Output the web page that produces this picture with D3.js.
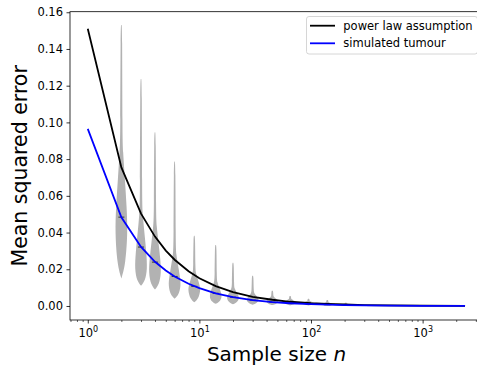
<!DOCTYPE html>
<html><head><meta charset="utf-8">
<script src="https://cdn.jsdelivr.net/npm/d3@7"></script>
<style>
html,body{margin:0;padding:0;background:#fff;}
svg{display:block;font-family:"DejaVu Sans",sans-serif;}
</style></head>
<body>
<svg id="chart" width="477" height="367"></svg>
<script>
// ---- data ----
const curveN = [1, 2, 3, 4, 5, 6, 8, 10, 14, 20, 30, 45, 65, 100, 140, 200, 300, 500, 1000, 2400];
const powerLaw = [0.151, 0.0755, 0.0503, 0.0378, 0.0302, 0.0252, 0.0189, 0.0151, 0.0108, 0.0076, 0.0050, 0.0034, 0.0023, 0.0015, 0.0011, 0.0008, 0.0005, 0.0003, 0.00015, 0.00006];
const simulated = [0.0965, 0.0483, 0.0322, 0.0241, 0.0193, 0.0161, 0.0121, 0.0097, 0.0069, 0.0048, 0.0032, 0.0021, 0.0015, 0.0010, 0.0007, 0.0005, 0.0003, 0.0002, 0.0001, 0.00004];

const violinN = [2, 3, 4, 6, 9, 14, 20, 30, 45, 65, 95, 140, 205];
const violinMin = [0.015, 0.011, 0.009, 0.004, 0.002, 0.0012, 0.0009, 0.0007, 0.0005, 0.0004, 0.0003, 0.0002, 0.0001];
const violinMode = [0.040, 0.020, 0.018, 0.011, 0.0085, 0.005, 0.0042, 0.0032, 0.0024, 0.0018, 0.0013, 0.0009, 0.0006];
const violinBodyTop = [0.085, 0.050, 0.044, 0.028, 0.018, 0.013, 0.0095, 0.007, 0.005, 0.0037, 0.0027, 0.0019, 0.0013];
const violinMax = [0.153, 0.1237, 0.0947, 0.0787, 0.0383, 0.0332, 0.0236, 0.0165, 0.0083, 0.0055, 0.0040, 0.0033, 0.0018];
const violinMean = [0.0484, 0.0321, 0.0239, 0.0161, 0.0107, 0.0069, 0.0048, 0.0032, 0.0021, 0.0015, 0.0010, 0.0007, 0.0005];

const yTicks = [0.00, 0.02, 0.04, 0.06, 0.08, 0.10, 0.12, 0.14, 0.16];
const xMajorTicks = [1, 10, 100, 1000];
const xMajorExp = ["0", "1", "2", "3"];
const legendLabels = ["power law assumption", "simulated tumour"];
const legendColors = ["#000000", "#0000ff"];

// ---- layout ----
const L = 70, R = 483, T = 11.7, B = 320;
const svg = d3.select("#chart");
const x = d3.scaleLog().domain([0.693, 3476]).range([L, R]);
const y = d3.scaleLinear().domain([-0.00763, 0.1603]).range([B, T]);

svg.append("defs").append("clipPath").attr("id", "clip")
  .append("rect").attr("x", L).attr("y", T).attr("width", R - L).attr("height", B - T);

const plot = svg.append("g").attr("clip-path", "url(#clip)");

// violins
const W = 6.3;
const vArea = d3.area()
  .y(d => y(d[0]))
  .x0(d => d[2] - d[1] * W)
  .x1(d => d[2] + d[1] * W)
  .curve(d3.curveBasis);

violinN.forEach((n, i) => {
  const cx = x(n);
  const mn = violinMin[i], md = violinMode[i], tp = violinBodyTop[i], mx = violinMax[i];
  const prof = [
    [mn, 0], [mn + 0.3 * (md - mn), 0.65], [md, 1.0],
    [md + 0.3 * (tp - md), 0.85], [md + 0.65 * (tp - md), 0.55],
    [tp, 0.25], [tp + 0.12 * (mx - tp), 0.16], [mx, 0.14], [mx, 0]
  ].map(p => [p[0], p[1], cx]);
  plot.append("path").attr("d", vArea(prof)).attr("fill", "#b2b2b2");
});

// mean markers
plot.selectAll("line.mean").data(violinN).enter().append("line")
  .attr("x1", d => x(d) - 3).attr("x2", d => x(d) + 3)
  .attr("y1", (d, i) => y(violinMean[i])).attr("y2", (d, i) => y(violinMean[i]))
  .attr("stroke", "#333").attr("stroke-width", 1);

// curves
const line = d3.line().x((d, i) => x(curveN[i])).y(d => y(d));
plot.append("path").attr("d", line(powerLaw)).attr("fill", "none")
  .attr("stroke", "#000").attr("stroke-width", 1.8);
plot.append("path").attr("d", line(simulated)).attr("fill", "none")
  .attr("stroke", "#0000ff").attr("stroke-width", 1.8);

// axes
const fs = 11.5;
const yAxis = svg.append("g").attr("transform", `translate(${L},0)`)
  .call(d3.axisLeft(y).tickValues(yTicks).tickFormat(d3.format(".2f")).tickSize(3.5).tickPadding(3.5));
yAxis.select(".domain").remove();
yAxis.selectAll("text").attr("font-size", fs).attr("font-family", "DejaVu Sans").attr("fill", "#000");
yAxis.selectAll("line").attr("stroke", "#000").attr("stroke-width", 0.8);

const minor = [];
for (let e = -1; e <= 3; e++) for (let k = 2; k <= 9; k++) {
  const v = k * Math.pow(10, e);
  if (v > 0.693 && v < 3476) minor.push(v);
}
const xMinor = svg.append("g").attr("transform", `translate(0,${B})`)
  .call(d3.axisBottom(x).tickValues(minor).tickFormat("").tickSize(2));
xMinor.select(".domain").remove();
xMinor.selectAll("line").attr("stroke", "#000").attr("stroke-width", 0.6);

const xAxis = svg.append("g").attr("transform", `translate(0,${B})`)
  .call(d3.axisBottom(x).tickValues(xMajorTicks).tickFormat("").tickSize(3.5));
xAxis.select(".domain").remove();
xAxis.selectAll("line").attr("stroke", "#000").attr("stroke-width", 0.8);
xAxis.selectAll(".tick").append("text")
  .attr("y", 16.5).attr("text-anchor", "middle").attr("font-size", fs).attr("fill", "#000")
  .attr("font-family", "DejaVu Sans")
  .each(function(d, i) {
    const t = d3.select(this);
    t.append("tspan").text("10");
    t.append("tspan").attr("dy", -5).attr("font-size", 8).text(xMajorExp[i]);
  });

// spines
svg.append("rect").attr("x", L).attr("y", T).attr("width", R - L).attr("height", B - T)
  .attr("fill", "none").attr("stroke", "#000").attr("stroke-width", 0.8);

// labels
svg.append("text").attr("x", (L + R) / 2).attr("y", 361).attr("text-anchor", "middle")
  .attr("font-size", 20).attr("fill", "#000")
  .call(t => { t.append("tspan").text("Sample size "); t.append("tspan").attr("font-style", "italic").text("n"); });
svg.append("text").attr("transform", `translate(27,${(T + B) / 2}) rotate(-90)`)
  .attr("text-anchor", "middle").attr("font-size", 20.5).attr("fill", "#000")
  .text("Mean squared error");

// legend
const lg = svg.append("g");
lg.append("rect").attr("x", 306.5).attr("y", 16.5).attr("width", 171).attr("height", 37.5)
  .attr("rx", 2.5).attr("fill", "#fff").attr("fill-opacity", 0.8)
  .attr("stroke", "#ccc").attr("stroke-width", 0.8);
legendLabels.forEach((lab, i) => {
  const yy = 25.7 + i * 17.6;
  lg.append("line").attr("x1", 310).attr("x2", 335).attr("y1", yy).attr("y2", yy)
    .attr("stroke", legendColors[i]).attr("stroke-width", 1.8);
  lg.append("text").attr("x", 343.3).attr("y", yy + 4).attr("font-size", fs).attr("fill", "#000")
    .text(lab);
});
</script>
</body></html>
